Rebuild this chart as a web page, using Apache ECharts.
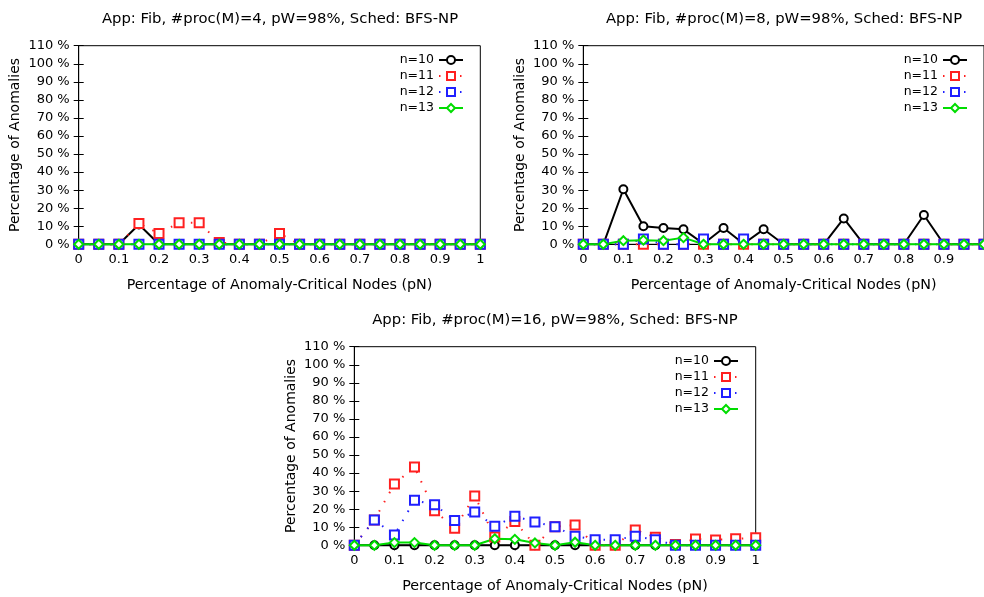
<!DOCTYPE html>
<html>
<head>
<meta charset="utf-8">
<script src="https://cdn.jsdelivr.net/npm/echarts@6/dist/echarts.min.js"></script>
<style>html,body{margin:0;padding:0;background:#fff}#c{width:984px;height:597px}</style>
</head>
<body>
<div id="c"></div>
<script>
const xValues = [0,0.05,0.1,0.15,0.2,0.25,0.3,0.35,0.4,0.45,0.5,0.55,0.6,0.65,0.7,0.75,0.8,0.85,0.9,0.95,1];
const seriesNames = ['n=10','n=11','n=12','n=13'];
const chartTitles = [
  'App: Fib, #proc(M)=4, pW=98%, Sched: BFS-NP',
  'App: Fib, #proc(M)=8, pW=98%, Sched: BFS-NP',
  'App: Fib, #proc(M)=16, pW=98%, Sched: BFS-NP'
];
const xAxisName = 'Percentage of Anomaly-Critical Nodes (pN)';
const yAxisName = 'Percentage of Anomalies';

// M=4
const m4_n10 = [0,0,0,11,0,0,0,0,0,0,0,0,0,0,0,0,0,0,0,0,0];
const m4_n11 = [0,0,0,11.5,6,12,12,1,0,0,6,0,0,0,0,0,0,0,0,0,0];
const m4_n12 = [0,0,0,0,0,0,0,0,0,0,0,0,0,0,0,0,0,0,0,0,0];
const m4_n13 = [0,0,0,0,0,0,0,0,0,0,0,0,0,0,0,0,0,0,0,0,0];
// M=8
const m8_n10 = [0,0,30.5,10,9,8.3,0.3,9,0.3,8.3,0,0,0,14.3,0,0,0,16.2,0,0,0];
const m8_n11 = [0,0,0,0,0,0,0,0,0,0,0,0,0,0,0,0,0,0,0,0,0];
const m8_n12 = [0,0,0,3,0,0,3,0,3,0,0,0,0,0,0,0,0,0,0,0,0];
const m8_n13 = [0,0,2,2.3,2,3.7,0,0,0,0,0,0,0,0,0,0,0,0,0,0,0];
// M=16
const m16_n10 = [0,0,0,0,0,0,0,0,0,0,0,0,0,0,0,0,0,0,0,0,0];
const m16_n11 = [0,14,34,43.4,19.2,9.4,27.3,4.6,13.2,0,10.3,11.2,0,0,8.5,4.5,0.5,3.5,3,3.6,4.2];
const m16_n12 = [0,14,5.7,24.9,22.5,13.8,18.4,10.6,16.1,12.9,10.3,5,3.1,3.1,5,3.1,0,0,0,0,0];
const m16_n13 = [0,0,1.5,1.5,0,0,0,3.6,3.3,1.3,0,1.7,0,0,0,0,0,0,0,0,0];

const chartData = [
  [m4_n10, m4_n11, m4_n12, m4_n13],
  [m8_n10, m8_n11, m8_n12, m8_n13],
  [m16_n10, m16_n11, m16_n12, m16_n13]
];

const FONT = '"DejaVu Sans", Verdana, sans-serif';
const grids = [
  {left: 78.7, top: 45.7, width: 401.6, height: 198.6},
  {left: 583.3, top: 45.7, width: 401, height: 198.6},
  {left: 354.3, top: 346.7, width: 401.4, height: 198.6}
];
const titlePos = [[280, 19], [784, 19], [555, 320.5]];
const legendPos = [{right: 520, top: 53}, {right: 16, top: 53}, {right: 245, top: 354}];

const styles = [
  {color: '#000000', symbol: 'emptyCircle', symbolSize: 8, line: {width: 2, type: 'solid'}},
  {color: '#ff2020', symbol: 'emptyRect', symbolSize: 9, line: {width: 2, type: [1.5, 9]}},
  {color: '#2020ff', symbol: 'emptyRect', symbolSize: 9, line: {width: 2, type: [1.5, 9]}},
  {color: '#00dd00', symbol: 'emptyDiamond', symbolSize: 9, line: {width: 2, type: 'solid'}}
];

const option = {
  animation: false,
  backgroundColor: '#fff',
  textStyle: {fontFamily: FONT},
  grid: [], xAxis: [], yAxis: [], series: [], legend: [], graphic: []
};

grids.forEach((g, gi) => {
  option.grid.push(Object.assign({show: true, borderColor: '#000', borderWidth: 1, backgroundColor: 'transparent'}, g));
  const tick = {show: true, inside: true, length: 5, lineStyle: {color: '#000'}};
  option.xAxis.push({
    type: 'value', gridIndex: gi, min: 0, max: 1, interval: 0.1, position: 'bottom',
    axisLine: {show: true, lineStyle: {color: '#000', width: 1}},
    axisTick: tick, splitLine: {show: false},
    axisLabel: {color: '#000', fontSize: 13, fontFamily: FONT, margin: 9, showMaxLabel: gi !== 1,
      formatter: v => String(Math.round(v * 10) / 10)},
    name: xAxisName, nameLocation: 'middle', nameGap: 34,
    nameTextStyle: {color: '#000', fontSize: 14.3, fontFamily: FONT}
  });
  option.xAxis.push({
    type: 'value', gridIndex: gi, min: 0, max: 1, interval: 0.1, position: 'top',
    axisLine: {show: true, lineStyle: {color: '#000'}}, axisTick: tick,
    axisLabel: {show: false}, splitLine: {show: false}
  });
  option.yAxis.push({
    type: 'value', gridIndex: gi, min: 0, max: 110, interval: 10, position: 'left',
    axisLine: {show: true, lineStyle: {color: '#000', width: 1}},
    axisTick: tick, splitLine: {show: false},
    axisLabel: {color: '#000', fontSize: 13, fontFamily: FONT, margin: 9, formatter: v => v + ' %'},
    name: yAxisName, nameLocation: 'middle', nameGap: 56, nameRotate: 90,
    nameTextStyle: {color: '#000', fontSize: 14, fontFamily: FONT}
  });
  option.yAxis.push({
    type: 'value', gridIndex: gi, min: 0, max: 110, interval: 10, position: 'right',
    axisLine: {show: true, lineStyle: {color: '#000'}}, axisTick: tick,
    axisLabel: {show: false}, splitLine: {show: false}
  });
  chartData[gi].forEach((vals, si) => {
    const st = styles[si];
    option.series.push({
      type: 'line', name: seriesNames[si],
      xAxisIndex: gi * 2, yAxisIndex: gi * 2,
      data: xValues.map((x, i) => [x, vals[i]]),
      symbol: st.symbol, symbolSize: st.symbolSize, showAllSymbol: true, clip: false,
      itemStyle: {color: st.color, borderWidth: 1.8},
      lineStyle: {color: st.color, width: st.line.width, type: st.line.type},
      emphasis: {disabled: true}
    });
  });
  option.legend.push(Object.assign({
    orient: 'vertical', align: 'right', itemWidth: 24, itemHeight: 10, itemGap: 2, padding: 0,
    textStyle: {color: '#000', fontSize: 12.5, fontFamily: FONT, lineHeight: 14},
    data: seriesNames, selectedMode: false
  }, legendPos[gi]));
  option.graphic.push({
    type: 'text', x: titlePos[gi][0], y: titlePos[gi][1],
    style: {text: chartTitles[gi], align: 'center', verticalAlign: 'middle', fill: '#000',
      font: '14.8px ' + FONT}
  });
});

const chart = echarts.init(document.getElementById('c'), null, {renderer: 'canvas'});
chart.setOption(option);
</script>
</body>
</html>
